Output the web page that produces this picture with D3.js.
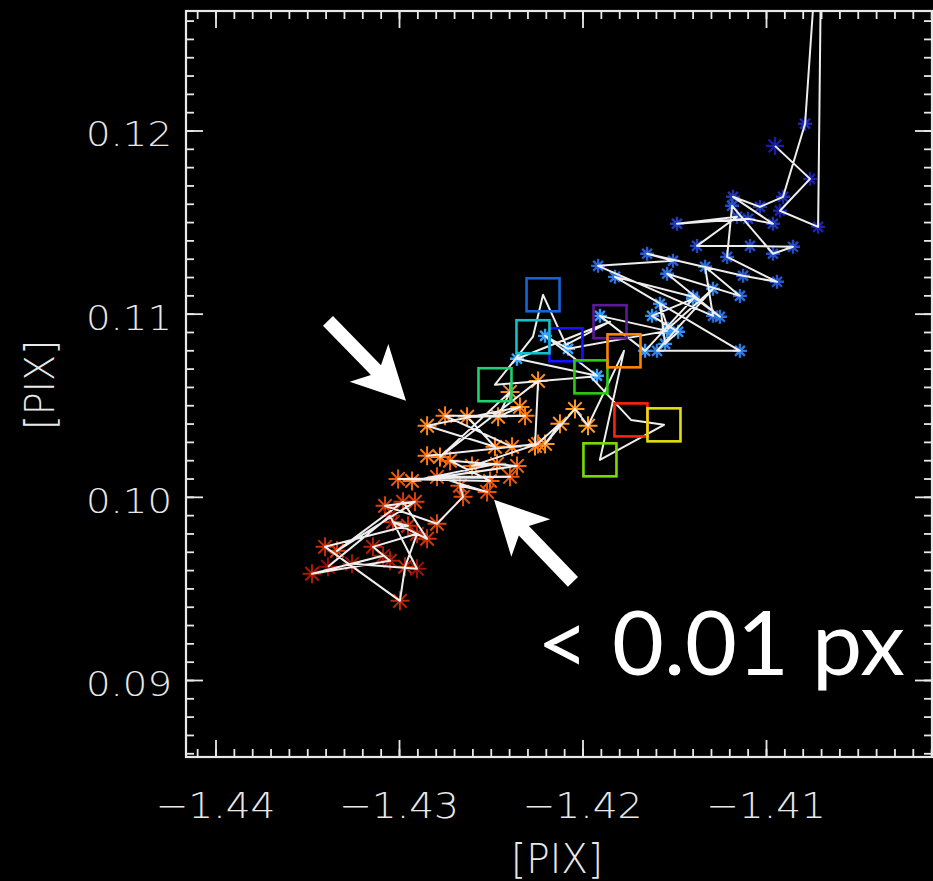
<!DOCTYPE html>
<html>
<head>
<meta charset="utf-8">
<script src="https://cdn.jsdelivr.net/npm/d3@7"></script>
<style>
  html, body { margin: 0; padding: 0; background: #000; }
  svg { display: block; }
</style>
</head>
<body>
<div id="chart"></div>
<script>
// tick values
const xTicks = [-1.44, -1.43, -1.42, -1.41];
const yTicks = [0.09, 0.10, 0.11, 0.12];

// early track (blue asterisks), time ordered
const blueX = [-1.40951, -1.40760, -1.40924, -1.40716, -1.40695, -1.40787, -1.40907, -1.41033, -1.41180, -1.40962,
               -1.41098, -1.41485, -1.41158, -1.41376, -1.41087, -1.40853, -1.40962, -1.41185, -1.41212, -1.40940,
               -1.41125, -1.41648, -1.41507, -1.41915, -1.41289, -1.41332, -1.41142, -1.41539, -1.41251, -1.41398,
               -1.41823, -1.41142, -1.41594, -1.41289, -1.41534, -1.41578, -1.41550, -1.41479, -1.41621, -1.41398,
               -1.41659, -1.41905, -1.41539, -1.42079, -1.42204, -1.41921, -1.42357];
const blueY = [0.11916, 0.11736, 0.11562, 0.11474, 0.13374, 0.12037, 0.11638, 0.11583, 0.11638, 0.11491,
               0.11518, 0.11491, 0.11529, 0.11370, 0.11370, 0.11365, 0.11327, 0.11589, 0.11310, 0.11174,
               0.11207, 0.11327, 0.11289, 0.11261, 0.10988, 0.11256, 0.11097, 0.11218, 0.10983, 0.11092,
               0.11201, 0.10797, 0.10797, 0.11136, 0.10917, 0.11054, 0.10835, 0.10901, 0.10988, 0.11081,
               0.10797, 0.10988, 0.10906, 0.10808, 0.10879, 0.10661, 0.10754];

// middle of the track (squares)
const boxX = [-1.41850, -1.42090, -1.42215, -1.42270, -1.42477, -1.41954, -1.41736, -1.41556, -1.41905, -1.41774];
const boxY = [0.10956, 0.10830, 0.11103, 0.10874, 0.10612, 0.10655, 0.10420, 0.10393, 0.10202, 0.10797];
const boxColors = ["#5a1a9a", "#1414ff", "#1464d8", "#12c0c8", "#22d070", "#2ecc10", "#ff2010", "#e0e010", "#78dc00", "#ff8400"];

// late track (orange to dark red asterisks)
const warmX = [-1.41970, -1.42041, -1.42204, -1.42123, -1.42259, -1.42242, -1.42777, -1.42395, -1.42460, -1.42341,
               -1.42847, -1.42477, -1.42629, -1.42313, -1.42749, -1.42384, -1.42847, -1.42242, -1.42602, -1.42466,
               -1.42929, -1.42357, -1.42722, -1.42504, -1.43005, -1.42395, -1.42793, -1.42520, -1.42668, -1.42651,
               -1.42793, -1.43076, -1.42913, -1.43338, -1.42978, -1.42847, -1.43033, -1.42951, -1.43403, -1.42995,
               -1.42967, -1.42902, -1.43142, -1.43049, -1.43474, -1.43087, -1.43256, -1.42902, -1.43049, -1.43387];
const warmY = [0.10388, 0.10480, 0.10289, 0.10399, 0.10278, 0.10633, 0.10218, 0.10573, 0.10437, 0.10491,
               0.10388, 0.10273, 0.10437, 0.10442, 0.10442, 0.10273, 0.10224, 0.10289, 0.10169, 0.10180,
               0.10087, 0.10169, 0.10197, 0.10087, 0.10098, 0.10109, 0.10109, 0.10027, 0.10060, 0.10000,
               0.09853, 0.09951, 0.09973, 0.09705, 0.09973, 0.09771, 0.09863, 0.09842, 0.09727, 0.09432,
               0.09618, 0.09798, 0.09727, 0.09651, 0.09580, 0.09678, 0.09634, 0.09607, 0.09896, 0.09618];

// annotation arrows (tail, tip) in data units
const arrowTailX = [-1.43387, -1.42052];
const arrowTailY = [0.10961, 0.09536];
const arrowTipX = [-1.42962, -1.42482];
const arrowTipY = [0.10524, 0.09984];

const width = 933, height = 881;
const plot = { left: 186, top: 11, size: 746 };

const svg = d3.select("#chart").append("svg")
    .attr("width", width)
    .attr("height", height)
    .style("background", "#000");

const x = d3.scaleLinear()
    .domain([-1.441608, -1.400954])
    .range([plot.left, plot.left + plot.size]);
const y = d3.scaleLinear()
    .domain([0.085796, 0.126524])
    .range([plot.top + plot.size, plot.top]);

svg.append("defs").append("clipPath").attr("id", "clip")
  .append("rect")
    .attr("x", plot.left).attr("y", plot.top)
    .attr("width", plot.size).attr("height", plot.size);

const axisColor = "#e8e8e8";
const minorX = d3.range(-1.441, -1.4005, 0.001).map(v => +v.toFixed(3));
const minorY = d3.range(0.086, 0.1266, 0.001).map(v => +v.toFixed(3));

// axes on all four sides, ticks pointing in
function drawAxis(axis, tx, ty) {
  const g = svg.append("g").attr("transform", `translate(${tx},${ty})`).call(axis);
  g.select(".domain").remove();
  g.selectAll("line").attr("stroke", axisColor).attr("stroke-width", 1.8);
  g.selectAll("text").remove();
}
const bottom = plot.top + plot.size, right = plot.left + plot.size;
drawAxis(d3.axisBottom(x).tickValues(xTicks).tickSize(-17).tickFormat(""), 0, bottom);
drawAxis(d3.axisBottom(x).tickValues(minorX).tickSize(-8).tickFormat(""), 0, bottom);
drawAxis(d3.axisTop(x).tickValues(xTicks).tickSize(-17).tickFormat(""), 0, plot.top);
drawAxis(d3.axisTop(x).tickValues(minorX).tickSize(-8).tickFormat(""), 0, plot.top);
drawAxis(d3.axisLeft(y).tickValues(yTicks).tickSize(-17).tickFormat(""), plot.left, 0);
drawAxis(d3.axisLeft(y).tickValues(minorY).tickSize(-8).tickFormat(""), plot.left, 0);
drawAxis(d3.axisRight(y).tickValues(yTicks).tickSize(-17).tickFormat(""), right, 0);
drawAxis(d3.axisRight(y).tickValues(minorY).tickSize(-8).tickFormat(""), right, 0);

svg.append("rect")
    .attr("x", plot.left).attr("y", plot.top)
    .attr("width", plot.size).attr("height", plot.size)
    .attr("fill", "none").attr("stroke", axisColor).attr("stroke-width", 2.2);

// tick labels (thin, condensed like the IDL vector font)
const labelFont = "'DejaVu Sans', sans-serif";
svg.append("g").selectAll("text")
  .data(xTicks)
  .join("text")
    .attr("x", d => x(d))
    .attr("y", 818)
    .attr("text-anchor", "middle")
    .attr("font-family", labelFont)
    .attr("font-weight", 200)
    .attr("font-size", 36)
    .attr("textLength", 120)
    .attr("lengthAdjust", "spacingAndGlyphs")
    .attr("fill", axisColor)
    .text(d => d3.format(".2f")(d));

svg.append("g").selectAll("text")
  .data(yTicks)
  .join("text")
    .attr("x", 172)
    .attr("y", d => y(d) + 16)
    .attr("text-anchor", "end")
    .attr("font-family", labelFont)
    .attr("font-weight", 200)
    .attr("font-size", 34)
    .attr("textLength", 86)
    .attr("lengthAdjust", "spacingAndGlyphs")
    .attr("fill", axisColor)
    .text(d => d3.format(".2f")(d));

svg.append("text")
    .attr("x", 557).attr("y", 873)
    .attr("text-anchor", "middle")
    .attr("font-family", labelFont).attr("font-weight", 200)
    .attr("font-size", 40)
    .attr("textLength", 92).attr("lengthAdjust", "spacingAndGlyphs")
    .attr("fill", axisColor)
    .text("[PIX]");

svg.append("text")
    .attr("transform", "translate(54,385) rotate(-90)")
    .attr("text-anchor", "middle")
    .attr("font-family", labelFont).attr("font-weight", 200)
    .attr("font-size", 40)
    .attr("textLength", 90).attr("lengthAdjust", "spacingAndGlyphs")
    .attr("fill", axisColor)
    .text("[PIX]");

// track
const blue = blueX.map((v, i) => ({ x: v, y: blueY[i], c: d3.interpolateRgb("#1a1ca6", "#3aa8ff")(i / (blueX.length - 1)) }));
const boxes = boxX.map((v, i) => ({ x: v, y: boxY[i], c: boxColors[i] }));
const warmColor = d3.piecewise(d3.interpolateRgb, ["#ff9c22", "#ff7410", "#d83c0a", "#9a0a02"]);
const warm = warmX.map((v, i) => ({ x: v, y: warmY[i], c: warmColor(i / (warmX.length - 1)) }));
const track = blue.concat(boxes, warm);

const body = svg.append("g").attr("clip-path", "url(#clip)");

function asterisk(r) {
  const a = r * 0.7071;
  return `M${-r},0L${r},0M0,${-r}L0,${r}M${-a},${-a}L${a},${a}M${-a},${a}L${a},${-a}`;
}

body.append("g").selectAll("path")
  .data(blue)
  .join("path")
    .attr("transform", d => `translate(${x(d.x)},${y(d.y)})`)
    .attr("d", (d, i) => asterisk(i === 0 ? 9 : 7))
    .attr("stroke", d => d.c)
    .attr("stroke-width", 2.4)
    .attr("fill", "none");

body.append("g").selectAll("path")
  .data(warm)
  .join("path")
    .attr("transform", d => `translate(${x(d.x)},${y(d.y)})`)
    .attr("d", asterisk(9.5))
    .attr("stroke", d => d.c)
    .attr("stroke-width", 2)
    .attr("fill", "none");

body.append("path")
    .datum(track)
    .attr("d", d3.line().x(d => x(d.x)).y(d => y(d.y)))
    .attr("fill", "none")
    .attr("stroke", "#eeeeee")
    .attr("stroke-width", 2)
    .attr("stroke-linejoin", "round");

body.append("g").selectAll("rect")
  .data(boxes)
  .join("rect")
    .attr("x", d => x(d.x) - 16.5)
    .attr("y", d => y(d.y) - 16.5)
    .attr("width", 33).attr("height", 33)
    .attr("fill", "none")
    .attr("stroke", d => d.c)
    .attr("stroke-width", 2.6);

// arrows
function arrowShape(x0, y0, x1, y1) {
  const dx = x1 - x0, dy = y1 - y0, L = Math.hypot(dx, dy);
  const ux = dx / L, uy = dy / L, nx = -uy, ny = ux;
  const p = (along, side) => [x1 + ux * along + nx * side, y1 + uy * along + ny * side];
  const back = -L;
  return [p(back, -7), p(-43, -7), p(-53, -27), p(0, 0), p(-53, 27), p(-43, 7), p(back, 7)];
}
svg.append("g").selectAll("polygon")
  .data(arrowTipX.map((v, i) => i))
  .join("polygon")
    .attr("points", i => arrowShape(x(arrowTailX[i]), y(arrowTailY[i]), x(arrowTipX[i]), y(arrowTipY[i])).map(p => p.join(",")).join(" "))
    .attr("fill", "#fff");

svg.append("text")
    .attr("x", 537).attr("y", 675)
    .attr("font-family", "'Lato', 'Open Sans', sans-serif")
    .attr("font-size", 90)
    .attr("textLength", 368).attr("lengthAdjust", "spacingAndGlyphs")
    .attr("fill", "#fff")
    .text("< 0.01 px");
</script>
</body>
</html>
